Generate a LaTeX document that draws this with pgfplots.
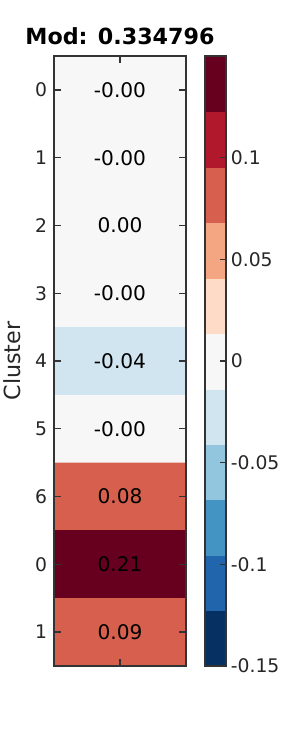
\documentclass[border=0pt]{standalone}
\usepackage{pgfplots}
\pgfplotsset{compat=1.18}
\usepackage{fontspec}
\setmainfont{DejaVu Sans}
\definecolor{c1}{RGB}{103,0,31}
\definecolor{c2}{RGB}{178,24,43}
\definecolor{c3}{RGB}{214,96,77}
\definecolor{c4}{RGB}{244,165,130}
\definecolor{c5}{RGB}{253,219,199}
\definecolor{c6}{RGB}{247,247,247}
\definecolor{c7}{RGB}{209,229,240}
\definecolor{c8}{RGB}{146,197,222}
\definecolor{c9}{RGB}{67,147,195}
\definecolor{c10}{RGB}{33,102,172}
\definecolor{c11}{RGB}{5,48,97}
\definecolor{axcol}{RGB}{51,51,51}
\definecolor{txt}{RGB}{38,38,38}
\begin{document}
\begin{tikzpicture}
\useasboundingbox (0,0) rectangle (216pt,540pt);
% main heatmap
\begin{axis}[
  at={(38.88pt,60.48pt)}, anchor=south west,
  scale only axis, width=95.04pt, height=439.2pt,
  xmin=0, xmax=1, ymin=-0.5, ymax=8.5, y dir=reverse,
  xbar, bar width=1, bar shift=0pt,
  axis on top,
  axis line style={axcol, line width=1.1pt},
  tick style={axcol, line width=1pt},
  major tick length=5pt,
  tick align=inside,
  xtick={0.5}, xticklabels={},
  ytick={0,1,2,3,4,5,6,7,8},
  yticklabels={0,1,2,3,4,5,6,0,1},
  yticklabel style={font=\fontsize{13.5}{16}\selectfont, text=txt, xshift=-1.5pt},
  ylabel={Cluster},
  ylabel style={at={(axis description cs:-0.32,0.5)}, anchor=center, font=\fontsize{16}{19}\selectfont, text=txt},
  title={Mod: 0.334796},
  title style={at={(0.5,1)}, anchor=base, yshift=2.1pt, font=\bfseries\fontsize{16}{19}\selectfont},
]
\addplot[draw=none, fill=c6] coordinates {(1,0) (1,1) (1,2) (1,3) (1,5)};
\addplot[draw=none, fill=c7] coordinates {(1,4)};
\addplot[draw=none, fill=c3] coordinates {(1,6) (1,8)};
\addplot[draw=none, fill=c1] coordinates {(1,7)};
\addplot[draw=none, mark=none, nodes near coords, point meta=explicit symbolic,
  nodes near coords align={center},
  every node near coord/.append style={font=\fontsize{14.5}{17}\selectfont, text=black}]
  coordinates {(0.5,0) [-0.00] (0.5,1) [-0.00] (0.5,2) [0.00] (0.5,3) [-0.00]
               (0.5,4) [-0.04] (0.5,5) [-0.00] (0.5,6) [0.08] (0.5,7) [0.21] (0.5,8) [0.09]};
\end{axis}
% colorbar
\begin{axis}[
  at={(147.6pt,60.48pt)}, anchor=south west,
  scale only axis, width=15.12pt, height=439.2pt,
  xmin=0, xmax=1, ymin=-0.15, ymax=0.15,
  xbar, bar width=0.0272727, bar shift=0pt,
  axis on top,
  axis line style={axcol, line width=1.1pt},
  tick style={axcol, line width=1pt},
  major tick length=4pt,
  tick align=inside,
  xtick=\empty,
  ytick={-0.15,-0.1,-0.05,0,0.05,0.1},
  yticklabels={-0.15,-0.1,-0.05,0,0.05,0.1},
  ytick pos=right, yticklabel pos=right,
  yticklabel style={font=\fontsize{13.5}{16}\selectfont, text=txt},
]
\addplot[draw=c11, line width=0.2pt, fill=c11] coordinates {(1,-0.136364)};
\addplot[draw=c10, line width=0.2pt, fill=c10] coordinates {(1,-0.109091)};
\addplot[draw=c9, line width=0.2pt, fill=c9] coordinates {(1,-0.081818)};
\addplot[draw=c8, line width=0.2pt, fill=c8] coordinates {(1,-0.054545)};
\addplot[draw=c7, line width=0.2pt, fill=c7] coordinates {(1,-0.027273)};
\addplot[draw=c6, line width=0.2pt, fill=c6] coordinates {(1,0)};
\addplot[draw=c5, line width=0.2pt, fill=c5] coordinates {(1,0.027273)};
\addplot[draw=c4, line width=0.2pt, fill=c4] coordinates {(1,0.054545)};
\addplot[draw=c3, line width=0.2pt, fill=c3] coordinates {(1,0.081818)};
\addplot[draw=c2, line width=0.2pt, fill=c2] coordinates {(1,0.109091)};
\addplot[draw=c1, line width=0.2pt, fill=c1] coordinates {(1,0.136364)};
\end{axis}
\end{tikzpicture}
\end{document}
